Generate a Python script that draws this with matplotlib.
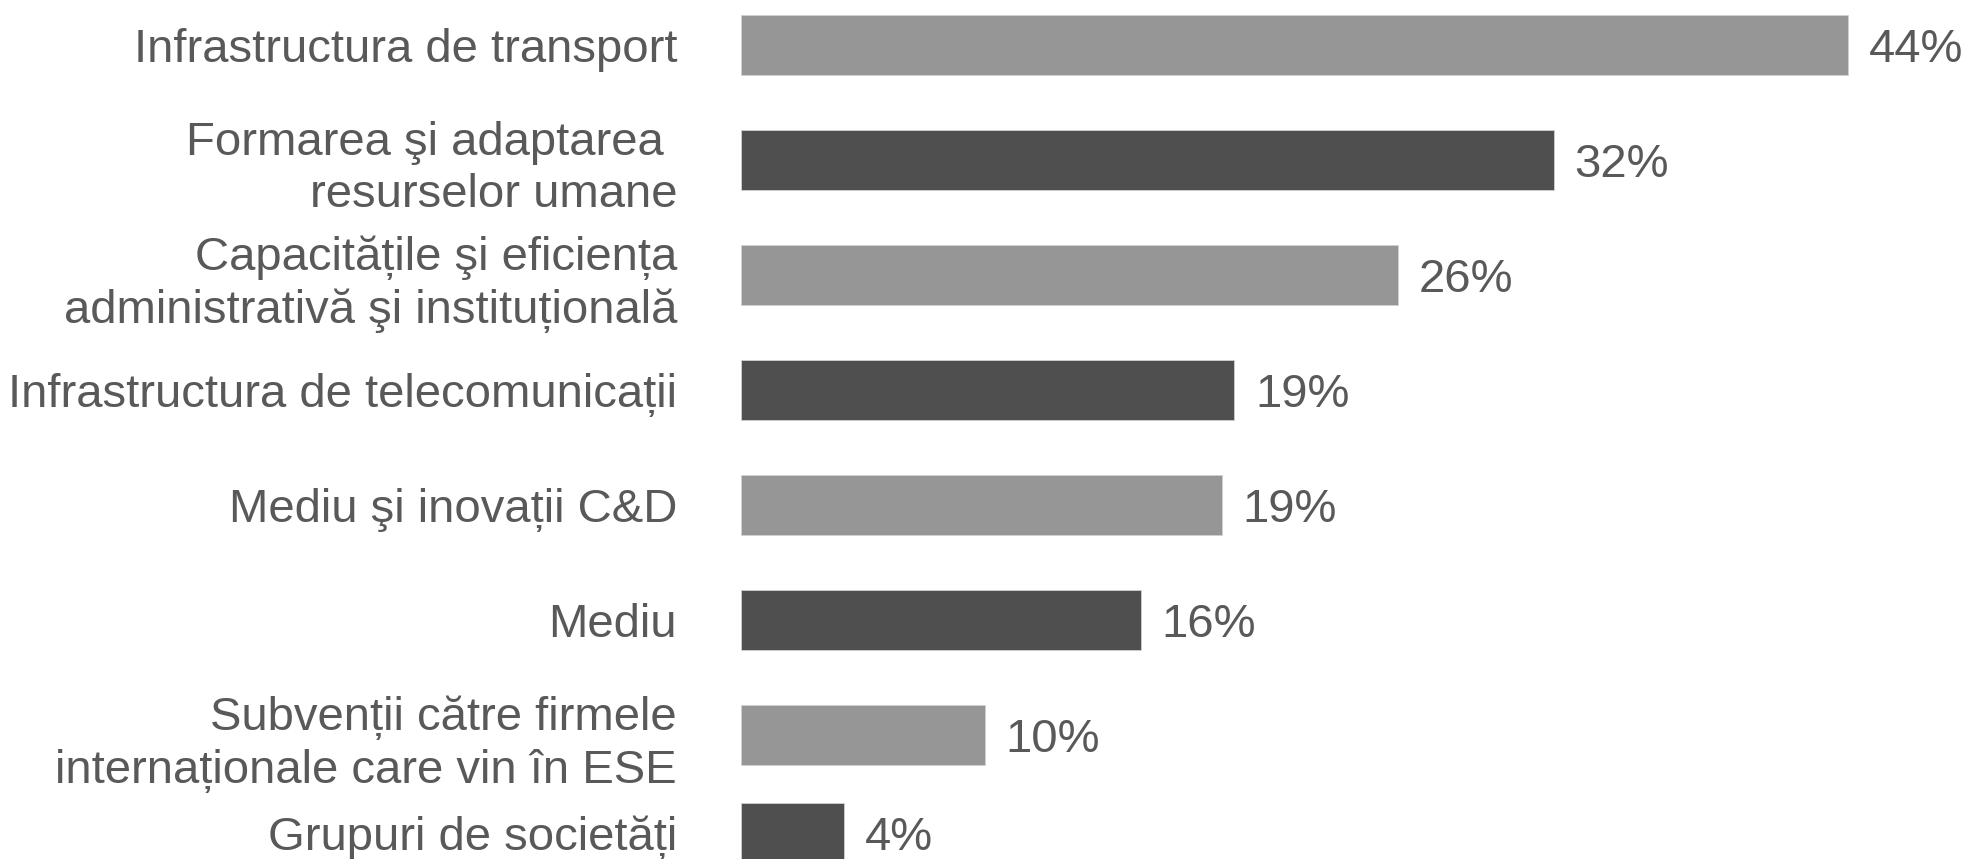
import numpy as np
import matplotlib
matplotlib.use("Agg")
import matplotlib.pyplot as plt

plt.rcParams['font.family'] = ['Liberation Sans', 'DejaVu Sans']

# data (bar lengths), labels as printed
categories = [
    "Infrastructura de transport",
    "Formarea şi adaptarea \nresurselor umane",
    "Capacitățile şi eficiența\nadministrativă şi instituțională",
    "Infrastructura de telecomunicații",
    "Mediu şi inovații C&D",
    "Mediu",
    "Subvenții către firmele\ninternaționale care vin în ESE",
    "Grupuri de societăți",
]
values = [44.0, 32.3, 26.1, 19.6, 19.1, 15.9, 9.7, 4.1]
value_labels = ["44%", "32%", "26%", "19%", "19%", "16%", "10%", "4%"]

LIGHT = '#969696'
DARK = '#4f4f4f'
TEXT = '#595959'
FS = 34

fig = plt.figure(figsize=(19.7, 8.59), dpi=100)
ax = fig.add_axes([741 / 1970, 0, 1229 / 1970, 1])

ypos = np.arange(len(categories), dtype=float)
ypos[-1] -= 0.15  # last row sits a little tighter in the original
colors = [LIGHT if i % 2 == 0 else DARK for i in range(len(categories))]

bars = ax.barh(ypos, values, height=0.52, color=colors,
               edgecolor='#d0d0d0', linewidth=0.6)

for b, lab in zip(bars, value_labels):
    ax.annotate(lab, (b.get_width(), b.get_y() + b.get_height() / 2),
                xytext=(15, 0), textcoords='offset points',
                ha='left', va='center_baseline', fontsize=FS, color=TEXT)

ax.set_yticks(ypos)
ax.set_yticklabels(categories, fontsize=FS, color=TEXT, ha='right',
                   linespacing=1.25)
ax.tick_params(axis='y', length=0, pad=46)
ax.set_xticks([])
ax.set_xlim(0, 48.85)
ax.set_ylim(7.078, -0.391)
for s in ax.spines.values():
    s.set_visible(False)

fig.savefig('out.png', dpi=100)
